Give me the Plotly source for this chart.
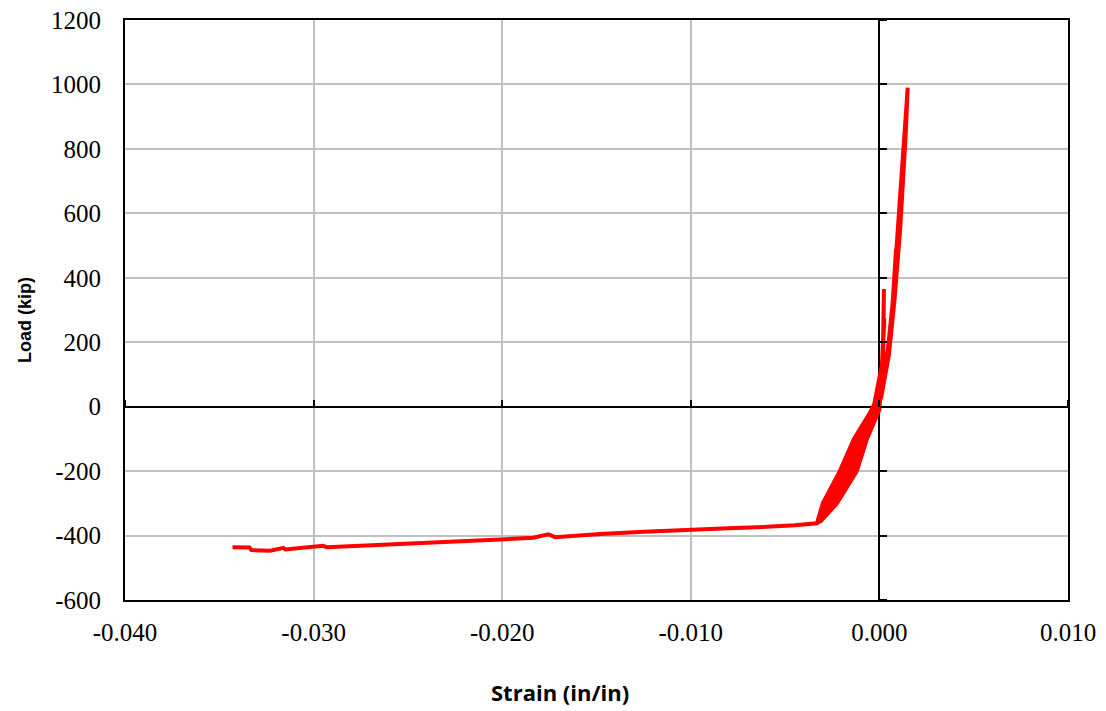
import plotly.graph_objects as go

# Strain (in/in) and Load (kip), in test order
strain = [
    0.0000, 0.0001, 0.00026, 0.00015, 0.0000, -0.00066, -0.0012, -0.00225, -0.0031, -0.0033,
    -0.0030, -0.0021, -0.00135, -0.0003, -0.0001, 0.0002, 0.00024, 0.0002, 0.0001, -0.0001,
    -0.0009, -0.0016, -0.0026, -0.0032, -0.0027, -0.0018, -0.0011, -0.0002, 0.0001, 0.0003,
    0.00053, 0.00074, 0.00088, 0.0009, 0.0007, 0.0004, 0.0001, -0.0001, -0.0008, -0.0014,
    -0.0024, -0.0033, -0.0028, -0.0019, -0.0012, -0.0004, 0.0000, 0.0003, 0.00055, 0.00074,
    0.00092, 0.00106, 0.00127, 0.0015, 0.0014, 0.0011, 0.0008, 0.0005, 0.0001, -0.0005,
    -0.0012, -0.0023, -0.0033,
    -0.0038, -0.0045, -0.0052, -0.0060, -0.0080, -0.0100, -0.0125, -0.0148, -0.0172,
    -0.01755, -0.01835, -0.0201, -0.0230, -0.0261, -0.0262, -0.0293, -0.0295, -0.0302,
    -0.0315, -0.0316, -0.0323, -0.0333, -0.0334, -0.0343,
]
load = [
    0, 80, 274, 120, -10, -100, -200, -300, -355, -360,
    -300, -200, -100, 0, 60, 150, 365, 220, 80, 0,
    -100, -200, -300, -358, -300, -200, -100, 0, 50, 124,
    197, 352, 487, 470, 320, 150, 40, -20, -100, -200,
    -300, -362, -300, -200, -100, -10, 40, 130, 210, 352,
    500, 600, 807, 990, 850, 550, 330, 160, 30, -60,
    -150, -280, -362,
    -365, -368, -370, -373, -377, -381, -388, -395, -405,
    -396, -407, -412, -419, -426, -428, -436, -432, -435,
    -443, -438, -447, -445, -437, -436,
]

x_ticks = [-0.040, -0.030, -0.020, -0.010, 0.000, 0.010]
x_tick_text = ["-0.040", "-0.030", "-0.020", "-0.010", "0.000", "0.010"]
y_ticks = [-600, -400, -200, 0, 200, 400, 600, 800, 1000, 1200]
y_tick_text = ["-600", "-400", "-200", "0", "200", "400", "600", "800", "1000", "1200"]

x_range = [-0.040, 0.010]
y_range = [-600, 1200]

fig = go.Figure()
fig.add_trace(go.Scatter(
    x=strain, y=load, mode="lines",
    line=dict(color="#FF0000", width=4),
    showlegend=False, hoverinfo="skip",
))
# empty trace so the zero-crossing tick axes are always rendered
fig.add_trace(go.Scatter(x=[None], y=[None], xaxis="x2", yaxis="y2",
                         mode="lines", showlegend=False, hoverinfo="skip"))

tick_font = dict(family="Liberation Serif", size=25, color="black")
grid_color = "#C0C0C0"

fig.update_layout(
    width=1106, height=711,
    margin=dict(l=125, r=38, t=20, b=111, autoexpand=False),
    paper_bgcolor="white", plot_bgcolor="white",
    xaxis=dict(
        range=x_range, tickvals=x_ticks, ticktext=x_tick_text,
        showgrid=True, gridcolor=grid_color, gridwidth=2,
        zeroline=True, zerolinecolor="black", zerolinewidth=2,
        showline=True, linecolor="black", linewidth=2, mirror=True,
        ticks="", tickfont=tick_font, ticklabelstandoff=9, automargin=False,
    ),
    yaxis=dict(
        range=y_range, tickvals=y_ticks, ticktext=y_tick_text,
        showgrid=True, gridcolor=grid_color, gridwidth=2,
        zeroline=True, zerolinecolor="black", zerolinewidth=2,
        showline=True, linecolor="black", linewidth=2, mirror=True,
        ticks="", tickfont=tick_font, ticklabelstandoff=17, automargin=False,
    ),
    xaxis2=dict(
        overlaying="x", anchor="free",
        position=(0 - y_range[0]) / (y_range[1] - y_range[0]),
        side="top", range=x_range, tickvals=x_ticks,
        ticks="outside", ticklen=7, tickwidth=2, tickcolor="black",
        showticklabels=False, showgrid=False, zeroline=False, showline=False,
        automargin=False,
    ),
    yaxis2=dict(
        overlaying="y", anchor="free",
        position=(0 - x_range[0]) / (x_range[1] - x_range[0]),
        side="right", range=y_range, tickvals=y_ticks,
        ticks="outside", ticklen=7, tickwidth=2, tickcolor="black",
        showticklabels=False, showgrid=False, zeroline=False, showline=False,
        automargin=False,
    ),
    annotations=[
        dict(text="<b>Strain (in/in)</b>", xref="paper", yref="paper",
             x=(560 - 125) / (1068 - 125), y=-(692 - 600) / (600 - 20),
             xanchor="center", yanchor="middle", showarrow=False,
             font=dict(family="Open Sans", size=22, color="black")),
        dict(text="<b>Load (kip)</b>", xref="paper", yref="paper",
             x=-(125 - 25) / (1068 - 125), y=(600 - 320) / (600 - 20),
             xanchor="center", yanchor="middle", showarrow=False, textangle=-90,
             font=dict(family="Liberation Sans", size=18, color="black")),
    ],
)

fig.write_html("out.html", config={"displayModeBar": False},
               post_script="document.body.style.margin='0px';")
